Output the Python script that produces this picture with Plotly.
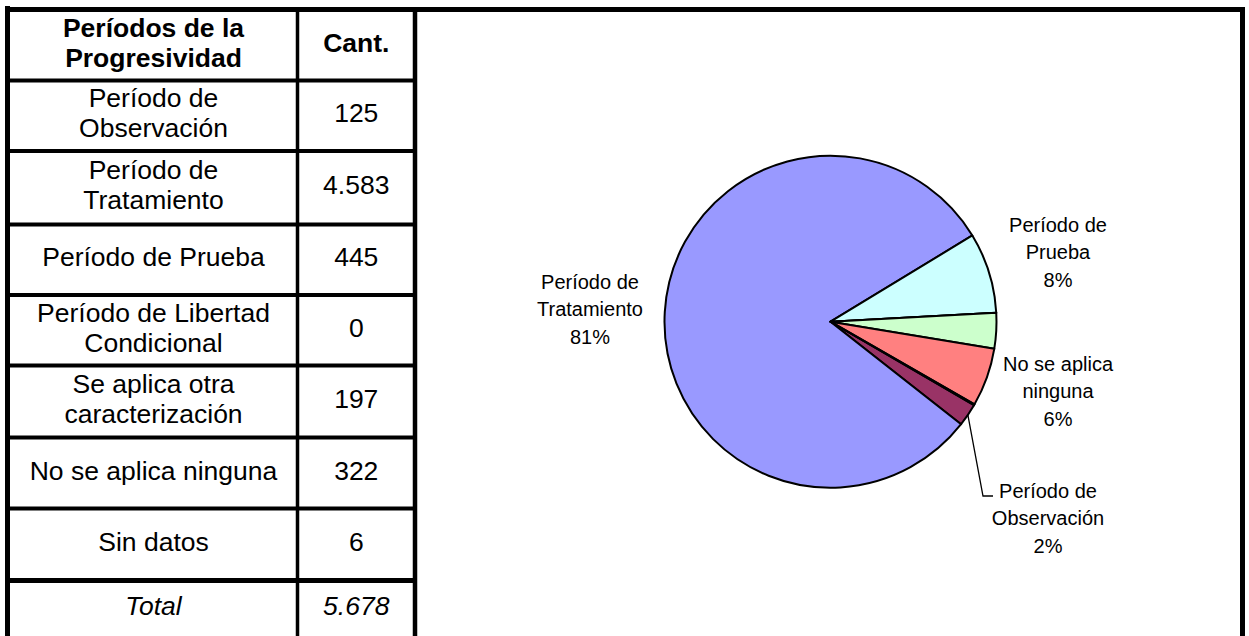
import math
import textwrap
import plotly.graph_objects as go

# ---------------- data ----------------
header_labels = ["Períodos de la Progresividad", "Cant."]
categories = [
    "Período de Observación",
    "Período de Tratamiento",
    "Período de Prueba",
    "Período de Libertad Condicional",
    "Se aplica otra caracterización",
    "No se aplica ninguna",
    "Sin datos",
]
counts = [125, 4583, 445, 0, 197, 322, 6]
total_label = "Total"
# which slices carry a label on the pie
pie_label_shown = [True, True, True, False, False, True, False]

# ---------------- styles / layout constants ----------------
slice_colors = ["#993366", "#9999FF", "#CCFFFF", "#FFFFCC", "#CCFFCC", "#FF8080", "#3366CC"]
W, H = 1249, 636
FONT = "Liberation Sans, Arial, sans-serif"
ROW_EDGES = [9.5, 80.5, 151, 224.5, 295, 365.5, 437.5, 508.5, 580.5, 641]
COL_EDGES = [7.5, 297.5, 415]
FRAME_RIGHT = 1242.5
TABLE_FONT = 26.5
TABLE_LINE_GAP = 30
PIE_CX, PIE_CY, PIE_R = 830.5, 321.7, 166
PIE_ROTATION = 120.2
PIE_FONT = 20
PIE_LINE_GAP = 27.5
# label block centres (pixel coords) for labelled slices, keyed by category index
pie_label_pos = {0: (1048, 520), 1: (590, 311), 2: (1058, 254), 5: (1058, 393)}
leader_corner = (983, 496)
leader_end = (993, 496)


def fmt(n):
    return f"{n:,}".replace(",", ".")


total = sum(counts)

fig = go.Figure()

# ---------------- table text ----------------
tx, ty, tt = [], [], []


def add_cell(text_lines, xc, yc, xs, ys, ts, gap):
    n = len(text_lines)
    for i, line in enumerate(text_lines):
        xs.append(xc)
        ys.append(yc + (i - (n - 1) / 2) * gap)
        ts.append(line)


col_centers = [(COL_EDGES[0] + COL_EDGES[1]) / 2 + 1, (COL_EDGES[1] + COL_EDGES[2]) / 2]
row_centers = [(ROW_EDGES[i] + ROW_EDGES[i + 1]) / 2 for i in range(len(ROW_EDGES) - 1)]
row_centers[-1] = (ROW_EDGES[-2] + H) / 2

# header
add_cell(["<b>" + s + "</b>" for s in textwrap.wrap(header_labels[0], 20)], col_centers[0], row_centers[0], tx, ty, tt, TABLE_LINE_GAP)
add_cell(["<b>" + header_labels[1] + "</b>"], col_centers[1], row_centers[0], tx, ty, tt, TABLE_LINE_GAP)
for r, (cat, val) in enumerate(zip(categories, counts)):
    add_cell(textwrap.wrap(cat, 20), col_centers[0], row_centers[r + 1], tx, ty, tt, TABLE_LINE_GAP)
    add_cell([fmt(val)], col_centers[1], row_centers[r + 1], tx, ty, tt, TABLE_LINE_GAP)
add_cell(["<i>" + total_label + "</i>"], col_centers[0], row_centers[-1], tx, ty, tt, TABLE_LINE_GAP)
add_cell(["<i>" + fmt(total) + "</i>"], col_centers[1], row_centers[-1], tx, ty, tt, TABLE_LINE_GAP)

fig.add_trace(go.Scatter(
    x=tx, y=ty, text=tt, mode="text", textposition="middle center",
    textfont=dict(family=FONT, size=TABLE_FONT, color="black"),
    hoverinfo="skip", showlegend=False, cliponaxis=False,
))

# ---------------- pie ----------------
fig.add_trace(go.Pie(
    labels=categories, values=counts, sort=False, direction="clockwise",
    rotation=PIE_ROTATION, textinfo="none", hoverinfo="label+value+percent",
    marker=dict(colors=slice_colors, line=dict(color="black", width=2)),
    domain=dict(x=[(PIE_CX - PIE_R) / W, (PIE_CX + PIE_R) / W],
                y=[(H - PIE_CY - PIE_R) / H, (H - PIE_CY + PIE_R) / H]),
    showlegend=False,
))

# pie labels
px_, py_, pt_ = [], [], []
for i, (cat, val, show) in enumerate(zip(categories, counts, pie_label_shown)):
    if not show:
        continue
    pct = round(val / total * 100)
    lines = textwrap.wrap(cat, 12) + [f"{pct}%"]
    cx, cy = pie_label_pos[i]
    add_cell(lines, cx, cy, px_, py_, pt_, PIE_LINE_GAP)
fig.add_trace(go.Scatter(
    x=px_, y=py_, text=pt_, mode="text", textposition="middle center",
    textfont=dict(family=FONT, size=PIE_FONT, color="black"),
    hoverinfo="skip", showlegend=False, cliponaxis=False,
))

# leader line for the "Período de Observación" slice (slice mid-angle from data)
mid = PIE_ROTATION + (counts[0] / 2) / total * 360
ang = math.radians(mid)
sx = PIE_CX + PIE_R * math.sin(ang)
sy = PIE_CY - PIE_R * math.cos(ang)
fig.add_shape(type="path",
              path=f"M {sx},{sy} L {leader_corner[0]},{leader_corner[1]} L {leader_end[0]},{leader_end[1]}",
              xref="x", yref="y", line=dict(color="black", width=1.3))

# ---------------- table grid & frame ----------------
def hline(y, x0, x1, w):
    fig.add_shape(type="line", x0=x0, x1=x1, y0=y, y1=y, xref="x", yref="y",
                  line=dict(color="black", width=w))


def vline(x, y0, y1, w):
    fig.add_shape(type="line", x0=x, x1=x, y0=y0, y1=y1, xref="x", yref="y",
                  line=dict(color="black", width=w))


for k, y in enumerate(ROW_EDGES):
    if k == 0:
        continue
    w = 5 if k == len(ROW_EDGES) - 2 else 3.8
    hline(y, COL_EDGES[0], COL_EDGES[-1], w)
hline(ROW_EDGES[0], 5, FRAME_RIGHT + 2.5, 5)
vline(COL_EDGES[0], ROW_EDGES[0] - 3.5, H + 5, 5)
vline(COL_EDGES[1], ROW_EDGES[0], H + 5, 3.5)
vline(COL_EDGES[2], ROW_EDGES[0], H + 5, 4.5)
vline(FRAME_RIGHT, ROW_EDGES[0], H + 5, 5)

fig.update_layout(
    width=W, height=H, margin=dict(l=0, r=0, t=0, b=0),
    paper_bgcolor="white", plot_bgcolor="white",
    xaxis=dict(range=[0, W], visible=False, domain=[0, 1], fixedrange=True),
    yaxis=dict(range=[H, 0], visible=False, domain=[0, 1], fixedrange=True),
    font=dict(family=FONT),
)

fig.write_html("out.html", config={"displayModeBar": False},
               post_script="document.body.style.margin='0';document.body.style.overflow='hidden';")
